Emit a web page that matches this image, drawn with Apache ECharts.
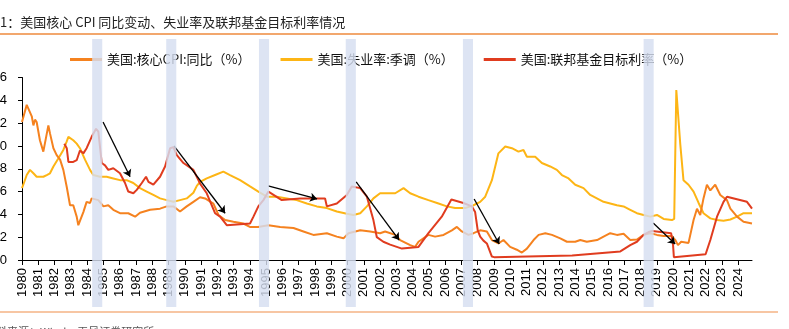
<!DOCTYPE html>
<html>
<head>
<meta charset="utf-8">
<script src="https://cdn.jsdelivr.net/npm/echarts@6/dist/echarts.min.js"></script>
<style>
html,body{margin:0;padding:0;background:#fff;}
#c{width:789px;height:329px;}
</style>
</head>
<body>
<div id="c"></div>
<script>
// ---- Data (decimal year, %) ----
const seriesNames = ['美国:核心CPI:同比（%）', '美国:失业率:季调（%）', '美国:联邦基金目标利率（%）'];
const yearTicks = [1980,1981,1982,1983,1984,1985,1986,1987,1988,1989,1990,1991,1992,1993,1994,1995,1996,1997,1998,1999,2000,2001,2002,2003,2004,2005,2006,2007,2008,2009,2010,2011,2012,2013,2014,2015,2016,2017,2018,2019,2020,2021,2022,2023,2024];

const coreCpi = [[1980.0,12.1],[1980.29,13.6],[1980.39,13.7],[1980.6,12.6],[1980.7,11.8],[1980.8,12.3],[1980.9,12.1],[1981.1,10.5],[1981.31,9.5],[1981.41,9.4],[1981.62,11.8],[1981.72,11.1],[1981.93,9.8],[1982.13,9.2],[1982.34,8.8],[1982.54,7.9],[1982.75,6.4],[1982.95,4.8],[1983.15,4.8],[1983.36,3.8],[1983.46,3.05],[1983.56,3.2],[1983.77,4.2],[1983.97,5.1],[1984.18,5.0],[1984.28,5.4],[1984.69,5.25],[1985.0,4.7],[1985.3,4.8],[1985.61,4.4],[1986.02,4.1],[1986.53,4.1],[1986.95,3.8],[1987.25,4.15],[1987.87,4.4],[1988.48,4.5],[1988.89,4.7],[1989.3,4.7],[1989.71,4.25],[1990.12,4.7],[1990.53,5.1],[1990.94,5.5],[1991.25,5.4],[1991.76,4.95],[1992.07,3.95],[1992.48,3.5],[1992.99,3.35],[1993.6,3.2],[1994.0,2.9],[1994.5,2.9],[1995.14,3.05],[1995.86,2.9],[1996.68,2.8],[1997.29,2.5],[1997.9,2.2],[1998.73,2.35],[1999.34,2.05],[1999.75,1.9],[2000.06,2.35],[2000.78,2.6],[2001.39,2.5],[2002.0,2.35],[2002.31,2.5],[2002.93,2.2],[2003.23,1.75],[2003.85,1.3],[2004.15,1.15],[2004.36,1.6],[2004.97,2.2],[2005.38,2.05],[2005.9,2.2],[2006.41,2.6],[2006.72,2.9],[2007.02,2.5],[2007.43,2.2],[2007.74,2.35],[2008.15,2.6],[2008.56,2.5],[2008.87,1.75],[2009.27,1.45],[2009.58,1.75],[2009.99,1.15],[2010.4,0.9],[2010.71,0.65],[2011.02,1.0],[2011.43,1.75],[2011.74,2.2],[2012.15,2.35],[2012.56,2.2],[2013.07,1.9],[2013.48,1.6],[2013.99,1.6],[2014.3,1.75],[2014.7,1.6],[2015.33,1.75],[2015.73,2.05],[2016.14,2.35],[2016.55,2.2],[2016.96,2.3],[2017.37,1.75],[2017.78,1.8],[2018.19,2.2],[2018.6,2.35],[2019.01,2.2],[2019.42,2.1],[2019.93,2.1],[2020.14,1.75],[2020.3,1.3],[2020.5,1.6],[2020.95,1.5],[2021.26,3.5],[2021.47,4.5],[2021.67,3.95],[2021.87,5.4],[2022.08,6.6],[2022.29,6.1],[2022.59,6.6],[2022.9,5.7],[2023.31,5.25],[2023.52,4.5],[2023.93,3.8],[2024.33,3.35],[2024.85,3.2]];

const unemployment = [[1980.0,6.3],[1980.08,6.6],[1980.29,7.45],[1980.49,7.9],[1980.7,7.6],[1980.9,7.3],[1981.31,7.3],[1981.52,7.45],[1981.72,7.6],[1981.93,8.2],[1982.23,8.9],[1982.54,9.65],[1982.75,10.4],[1982.85,10.8],[1982.95,10.85],[1983.15,10.5],[1983.36,10.2],[1983.56,9.8],[1983.87,8.8],[1984.18,7.9],[1984.38,7.45],[1984.79,7.3],[1985.2,7.3],[1985.61,7.15],[1986.02,7.0],[1986.43,7.0],[1986.84,6.75],[1987.25,6.3],[1987.66,6.0],[1988.07,5.7],[1988.48,5.4],[1988.89,5.25],[1989.3,5.1],[1989.71,5.25],[1990.12,5.4],[1990.53,5.9],[1990.74,6.5],[1990.94,6.85],[1991.35,7.15],[1991.86,7.45],[1992.37,7.75],[1992.78,7.45],[1993.4,7.0],[1994.01,6.45],[1994.52,6.0],[1995.04,5.55],[1995.65,5.55],[1996.27,5.4],[1996.88,5.25],[1997.5,4.95],[1998.11,4.7],[1998.73,4.55],[1999.34,4.25],[1999.96,4.05],[2000.36,3.95],[2000.78,4.1],[2001.19,4.7],[2001.59,5.4],[2002.0,5.85],[2002.31,5.85],[2002.93,5.85],[2003.44,6.3],[2003.85,5.85],[2004.36,5.55],[2004.97,5.25],[2005.59,4.95],[2006.1,4.7],[2006.61,4.55],[2007.23,4.55],[2007.74,4.8],[2008.15,5.1],[2008.46,5.55],[2008.87,7.0],[2009.27,9.35],[2009.69,9.95],[2010.1,9.8],[2010.5,9.5],[2010.81,9.65],[2011.02,9.05],[2011.53,9.05],[2011.94,8.5],[2012.45,8.2],[2012.86,7.9],[2013.17,7.45],[2013.58,7.15],[2013.99,6.6],[2014.5,6.3],[2014.91,5.7],[2015.32,5.4],[2015.73,5.1],[2016.14,4.95],[2016.55,4.8],[2016.96,4.7],[2017.37,4.4],[2017.78,4.1],[2018.19,3.95],[2018.6,3.8],[2019.01,3.95],[2019.42,3.6],[2019.93,3.5],[2020.07,3.6],[2020.2,14.9],[2020.28,14.75],[2020.44,10.2],[2020.64,7.0],[2020.95,6.6],[2021.26,6.0],[2021.57,5.0],[2021.87,4.1],[2022.29,3.65],[2022.7,3.5],[2023.1,3.45],[2023.52,3.55],[2023.93,3.8],[2024.33,4.1],[2024.85,4.1]];

const fedRate = [[1982.6,10.2],[1982.75,9.8],[1982.85,8.6],[1983.15,8.6],[1983.36,8.75],[1983.56,9.6],[1983.77,9.35],[1983.97,9.8],[1984.28,10.8],[1984.55,11.5],[1984.69,11.25],[1984.9,8.5],[1985.1,8.3],[1985.3,7.9],[1985.61,8.05],[1986.02,7.6],[1986.33,6.75],[1986.53,6.0],[1986.84,5.85],[1987.05,6.15],[1987.36,6.75],[1987.62,7.3],[1987.77,6.85],[1988.07,6.6],[1988.48,7.3],[1988.79,8.2],[1989.1,9.8],[1989.3,9.9],[1989.51,9.2],[1989.92,8.5],[1990.53,7.9],[1990.94,6.7],[1991.35,5.85],[1991.86,4.1],[1992.17,3.8],[1992.58,3.05],[1994.01,3.2],[1994.22,3.8],[1994.52,4.7],[1994.83,5.25],[1995.14,6.0],[1995.96,5.25],[1997.09,5.4],[1998.62,5.4],[1998.73,4.7],[1999.34,4.95],[1999.96,5.7],[2000.26,6.45],[2000.78,6.3],[2001.19,5.55],[2001.59,3.5],[2001.8,2.0],[2002.2,1.6],[2002.62,1.35],[2003.34,1.0],[2004.36,1.15],[2004.97,2.35],[2005.79,3.8],[2006.38,5.3],[2007.12,5.0],[2007.64,4.7],[2007.84,4.2],[2008.0,2.6],[2008.15,2.05],[2008.35,1.7],[2008.56,1.45],[2008.87,0.3],[2009.0,0.25],[2013.8,0.4],[2016.76,0.75],[2017.37,1.3],[2017.78,1.6],[2018.19,2.2],[2018.5,2.45],[2018.72,2.55],[2019.88,2.35],[2020.0,1.3],[2020.05,0.25],[2022.0,0.5],[2022.29,1.75],[2022.7,3.8],[2023.1,5.1],[2023.31,5.55],[2024.54,5.1],[2024.75,4.7],[2024.85,4.5]];

// annotation arrows: [start, end] in (year, %) coordinates
const arrows = [
  [[1984.98,12.1],[1986.64,7.3]],
  [[1989.34,10.0],[1992.48,4.1]],
  [[1995.12,6.5],[1998.13,5.35]],
  [[2000.53,6.85],[2003.17,1.75]],
  [[2007.78,5.35],[2009.32,1.4]],
  [[2018.78,3.25],[2020.13,1.4]]
];
// shaded periods (centre year)
const bandYears = [1984.62, 1989.17, 1994.87, 2000.2, 2007.4, 2018.5];
const bandHalfWidth = 0.31;

const latin = '"Liberation Sans", Arial, "Noto Sans CJK SC", sans-serif';
const cjk = '"Noto Sans CJK SC", "Liberation Sans", sans-serif';
const colors = ['#F5821F', '#FDB515', '#E03C1F'];

const chart = echarts.init(document.getElementById('c'), null, {renderer: 'canvas'});
const option = {
  animation: false,
  backgroundColor: '#ffffff',
  color: colors,
  title: {
    text: '图1：美国核心 CPI 同比变动、失业率及联邦基金目标利率情况',
    left: -13, top: 16, padding: 0,
    textStyle: {fontSize: 13, fontWeight: 'normal', color: '#222', fontFamily: cjk}
  },
  legend: {
    data: seriesNames,
    left: 70, top: 53, padding: 0,
    icon: 'rect',
    itemWidth: 32, itemHeight: 3, itemGap: 30,
    textStyle: {fontSize: 13, color: '#111', fontFamily: cjk}
  },
  grid: {left: 22, right: 37, top: 77.5, bottom: 69, containLabel: false, outerBoundsMode: 'none'},
  xAxis: {
    type: 'value', min: 1980, max: 2024.85,
    splitLine: {show: false},
    axisLine: {lineStyle: {color: '#000', width: 1}},
    axisTick: {show: true, length: 5, lineStyle: {color: '#000'}, customValues: yearTicks},
    axisLabel: {rotate: 90, margin: 8, fontSize: 13, color: '#000', fontFamily: latin,
      customValues: yearTicks, formatter: v => String(Math.round(v))}
  },
  yAxis: {
    type: 'value', min: 0, max: 16, interval: 2,
    splitLine: {show: false},
    axisLine: {show: true, lineStyle: {color: '#000', width: 1}},
    axisTick: {show: true, length: 4, lineStyle: {color: '#000'}},
    axisLabel: {margin: 15, fontSize: 13, color: '#000', fontFamily: latin}
  },
  series: [
    {name: seriesNames[0], type: 'line', data: coreCpi, symbol: 'none', lineStyle: {width: 2, color: colors[0]}, itemStyle: {color: colors[0]}, z: 3},
    {name: seriesNames[1], type: 'line', data: unemployment, symbol: 'none', lineStyle: {width: 2, color: colors[1]}, itemStyle: {color: colors[1]}, z: 2},
    {name: seriesNames[2], type: 'line', data: fedRate, symbol: 'none', lineStyle: {width: 2, color: colors[2]}, itemStyle: {color: colors[2]}, z: 4},
    {type: 'lines', coordinateSystem: 'cartesian2d', silent: true, z: 6,
      symbol: ['none', 'arrow'], symbolSize: 7,
      lineStyle: {color: '#000', width: 1.3, opacity: 1},
      data: arrows.map(a => ({coords: a}))}
  ]
};
chart.setOption(option);

const toX = v => chart.convertToPixel({xAxisIndex: 0}, v);
const elements = [
  {type: 'line', z: 50, shape: {x1: 0, y1: 34, x2: 778, y2: 34}, style: {stroke: '#EE8A3C', lineWidth: 1.5}},
  {type: 'line', z: 50, shape: {x1: 0, y1: 312, x2: 778, y2: 312}, style: {stroke: '#F5B384', lineWidth: 1.5}},
  {type: 'text', z: 50, x: -15, y: 326, style: {text: '资料来源：Wind，天风证券研究所', font: '11px "Noto Sans CJK SC", sans-serif', fill: '#555', verticalAlign: 'top'}}
];
bandYears.forEach(y => {
  const x0 = toX(y - bandHalfWidth), x1 = toX(y + bandHalfWidth);
  elements.push({type: 'rect', z: 100, shape: {x: x0, y: 39, width: x1 - x0, height: 268},
    style: {fill: 'rgba(214,222,240,0.82)'}});
});
chart.setOption({graphic: {elements: elements}});
</script>
</body>
</html>
